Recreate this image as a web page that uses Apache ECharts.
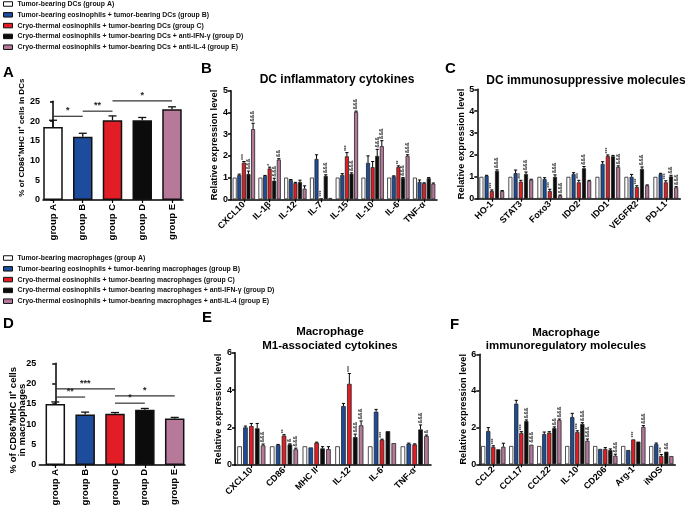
<!DOCTYPE html>
<html><head><meta charset="utf-8">
<script src="https://cdn.jsdelivr.net/npm/echarts@6/dist/echarts.min.js"></script>
<style>html,body{margin:0;padding:0;background:#fff}#c{width:685px;height:508px}</style>
</head><body><div id="c"></div><script>
// ---------- legend texts ----------
const legendDC = [
  'Tumor-bearing DCs (group A)',
  'Tumor-bearing eosinophils + tumor-bearing DCs (group B)',
  'Cryo-thermal eosinophils + tumor-bearing DCs (group C)',
  'Cryo-thermal eosinophils + tumor-bearing DCs + anti-IFN-γ (group D)',
  'Cryo-thermal eosinophils + tumor-bearing DCs + anti-IL-4 (group E)'
];
const legendMac = [
  'Tumor-bearing macrophages (group A)',
  'Tumor-bearing eosinophils + tumor-bearing macrophages (group B)',
  'Cryo-thermal eosinophils + tumor-bearing macrophages (group C)',
  'Cryo-thermal eosinophils + tumor-bearing macrophages + anti-IFN-γ (group D)',
  'Cryo-thermal eosinophils + tumor-bearing macrophages + anti-IL-4 (group E)'
];
const groupColors = ['#ffffff', '#1d4c9c', '#e31d25', '#0c0c0c', '#b6799a'];

// ---------- Panel A ----------
const aCats = ['group A', 'group B', 'group C', 'group D', 'group E'];
const aVals = [18.5, 16.0, 20.2, 20.2, 23.0];
const aErr  = [20.2, 16.9, 21.3, 20.9, 23.6];
const aSigFrom = [0, 1, 2];
const aSigTo   = [1, 2, 4];
const aSigY    = [21.2, 22.5, 25.1];
const aSigText = ['*', '**', '*'];

// ---------- Panel B ----------
const bCats = ['CXCL10', 'IL-1β', 'IL-12', 'IL-7', 'IL-15', 'IL-10', 'IL-6', 'TNF-α'];
const bA    = [1, 1, 1, 1, 1, 1, 1, 1];
const bB    = [1.12, 1.08, 0.89, 1.86, 1.12, 1.68, 1.06, 0.80];
const bC    = [1.69, 1.42, 0.75, 0.05, 1.98, 1.48, 1.49, 0.74];
const bD    = [1.17, 0.86, 0.80, 1.08, 1.18, 2.00, 0.98, 0.97];
const bE    = [3.23, 1.83, 0.49, 0.06, 4.02, 2.45, 2.00, 0.72];
const bBErr = [1.16, 1.10, 0.91, 2.05, 1.18, 2.00, 1.08, 0.89];
const bCErr = [1.74, 1.48, 0.78, 0.06, 2.15, 1.74, 1.54, 0.76];
const bDErr = [1.30, 0.97, 0.88, 1.13, 1.22, 2.30, 1.00, 1.00];
const bEErr = [3.50, 1.87, 0.62, 0.07, 4.06, 2.70, 2.05, 0.75];
const bSigC = ['***', '*', '', '***', '***', '', '**', ''];
const bSigD = ['&&&', '&&&', '', '&&&', '&&&', '&&&', '&&&', ''];
const bSigE = ['&&&', '&&', '', '', '&&&', '&&&', '&&&', ''];

// ---------- Panel C ----------
const cCats = ['HO-1', 'STAT3', 'Foxo3', 'IDO2', 'IDO1', 'VEGFR2', 'PD-L1'];
const cA    = [1, 1, 1, 1, 1, 1, 1];
const cB    = [1.05, 1.17, 0.90, 1.13, 1.59, 1.00, 1.13];
const cC    = [0.35, 0.78, 0.35, 0.75, 1.95, 0.53, 0.75];
const cD    = [1.27, 1.13, 1.00, 1.39, 1.94, 1.36, 1.02];
const cE    = [0.35, 0.87, 0.15, 0.82, 1.45, 0.61, 0.52];
const cBErr = [1.07, 1.31, 0.96, 1.19, 1.69, 1.11, 1.16];
const cCErr = [0.40, 0.84, 0.43, 0.84, 2.00, 0.59, 0.82];
const cDErr = [1.32, 1.22, 1.09, 1.47, 1.98, 1.45, 1.07];
const cEErr = [0.37, 0.89, 0.17, 0.84, 1.50, 0.63, 0.55];
const cSigC = ['***', '***', '***', '***', '***', '***', '***'];
const cSigD = ['&&&', '&&&', '&&&', '&&&', '', '&&&', '&&'];
const cSigE = ['', '', '&&&', '', '&&&', '', '&&&'];

// ---------- Panel D ----------
const dCats = ['group A', 'group B', 'group C', 'group D', 'group E'];
const dVals = [15.0, 12.4, 12.6, 13.6, 11.4];
const dErr  = [15.5, 13.0, 12.9, 13.9, 11.7];
const dSigFrom = [0, 0, 2, 2];
const dSigTo   = [1, 2, 4, 3];
const dSigY    = [16.7, 18.7, 17.0, 15.2];
const dSigText = ['**', '***', '*', '*'];

// ---------- Panel E ----------
const eCats = ['CXCL10', 'CD86', 'MHC II', 'IL-12', 'IL-6', 'TNF-α'];
const eA    = [1, 1, 1, 1, 1, 1];
const eB    = [2.01, 1.07, 0.94, 3.15, 2.85, 1.14];
const eC    = [2.08, 1.57, 1.19, 4.34, 1.35, 1.10];
const eD    = [1.96, 1.10, 0.89, 1.49, 1.81, 1.90];
const eE    = [1.05, 0.84, 0.85, 2.12, 1.17, 1.55];
const eBErr = [2.08, 1.10, 0.96, 3.29, 2.97, 1.17];
const eCErr = [2.22, 1.62, 1.22, 4.89, 1.38, 1.13];
const eDErr = [2.22, 1.13, 0.98, 1.65, 1.83, 2.14];
const eEErr = [1.12, 0.90, 0.98, 2.35, 1.19, 1.60];
const eSigC = ['', '**', '', '***', '***', ''];
const eSigD = ['', '&', '', '&&&', '', '&&&'];
const eSigE = ['&&&', '&&&', '', '&&&', '', '&'];

// ---------- Panel F ----------
const fCats = ['CCL2', 'CCL17', 'CCL22', 'IL-10', 'CD206', 'Arg-1', 'iNOS'];
const fA    = [1, 1, 1, 1, 1, 1, 1];
const fB    = [1.82, 3.31, 1.65, 2.58, 0.84, 0.78, 1.11];
const fC    = [0.95, 1.71, 1.73, 1.76, 0.84, 1.36, 0.45];
const fD    = [0.82, 2.36, 1.98, 2.20, 0.78, 1.24, 0.69];
const fE    = [0.96, 1.07, 2.42, 1.29, 0.47, 2.04, 0.45];
const fBErr = [2.00, 3.49, 1.76, 2.78, 0.86, 0.80, 1.16];
const fCErr = [1.01, 1.78, 1.78, 1.83, 0.91, 1.38, 0.53];
const fDErr = [0.84, 2.42, 2.04, 2.27, 0.84, 1.26, 0.71];
const fEErr = [1.15, 1.09, 2.47, 1.38, 0.55, 2.11, 0.47];
const fSigC = ['***', '***', '', '***', '', '***', '***'];
const fSigD = ['', '&&&', '&&', '&&&', '', '', '&&'];
const fSigE = ['', '&&&', '&&&', '&&&', '&&&', '&&&', ''];

// =====================================================
const FONT = '"Liberation Sans", Arial, Helvetica, sans-serif';
const chart = echarts.init(document.getElementById('c'));

const axisLineStyle = {color: '#000', width: 1.5};
const labelStyle = {color: '#000', fontSize: 9, fontWeight: 'bold', fontFamily: FONT};
const nameStyle = {color: '#000', fontSize: 9.3, fontWeight: 'bold', fontFamily: FONT, lineHeight: 10};

const grids = [
  {left: 43, top: 101.3, width: 140, height: 98.7},    // A
  {left: 231, top: 90.7, width: 206, height: 108.6},   // B
  {left: 477.3, top: 89.3, width: 203, height: 109.4}, // C
  {left: 39.3, top: 363.3, width: 145.7, height: 101.7}, // D
  {left: 235, top: 352.7, width: 196, height: 112.3},  // E
  {left: 479.3, top: 354.3, width: 196, height: 110}   // F
].map(g => Object.assign({outerBoundsMode: 'none', containLabel: false}, g));

function yAxisCfg(gi, max, interval, name, nameGap, nameExtra) {
  return {
    type: 'value', gridIndex: gi, min: 0, max, interval,
    splitLine: {show: false},
    axisLine: {show: true, lineStyle: axisLineStyle},
    axisTick: {show: true, length: 3, lineStyle: {width: 1.5, color: '#000'}},
    axisLabel: Object.assign({margin: 3}, labelStyle),
    name, nameLocation: 'middle', nameGap, nameMoveOverlap: false,
    nameTextStyle: Object.assign({}, nameStyle, nameExtra || {})
  };
}
function catXAxis(gi, cats) {
  return {
    type: 'category', gridIndex: gi, data: cats,
    axisLine: {show: true, lineStyle: axisLineStyle},
    axisTick: {show: true, alignWithLabel: true, length: 3, lineStyle: {width: 1.2, color: '#000'}},
    axisLabel: Object.assign({rotate: 45, interval: 0, margin: 4}, labelStyle)
  };
}
function groupXAxis(gi, cats, min, max) {
  const idx = cats.map((c, i) => i);
  return {
    type: 'value', gridIndex: gi, min, max,
    splitLine: {show: false},
    axisLine: {show: true, onZero: false, lineStyle: axisLineStyle},
    axisTick: {show: true, length: 3, customValues: idx, lineStyle: {width: 1.2, color: '#000'}},
    axisLabel: Object.assign({rotate: 90, margin: 4, customValues: idx,
      formatter: v => cats[Math.round(v)] || ''}, labelStyle, {fontSize: 9.5})
  };
}

function singleBarPanel(gi, vals, errs, names, sigFrom, sigTo, sigY, sigText) {
  const series = [];
  for (let g = 0; g < vals.length; g++) {
    series.push({
      type: 'bar', name: names[g], xAxisIndex: gi, yAxisIndex: gi,
      data: [[g, vals[g]]], barWidth: 19.5, barGap: '-100%',
      itemStyle: {color: groupColors[g], borderColor: '#111', borderWidth: 1.5}, z: 2
    });
  }
  series.push({
    type: 'custom', xAxisIndex: gi, yAxisIndex: gi, silent: true, clip: false, z: 5,
    data: vals.map((v, i) => [i, v, errs[i]]), encode: {x: 0, y: [1, 2]},
    renderItem(params, api) {
      const p0 = api.coord([api.value(0), api.value(1)]);
      const p1 = api.coord([api.value(0), api.value(2)]);
      return {type: 'group', children: [
        {type: 'line', shape: {x1: p0[0], y1: p0[1], x2: p1[0], y2: p1[1]}, style: {stroke: '#111', lineWidth: 1.3}},
        {type: 'line', shape: {x1: p1[0] - 4, y1: p1[1], x2: p1[0] + 4, y2: p1[1]}, style: {stroke: '#111', lineWidth: 1.3}}
      ]};
    }
  });
  series.push({
    type: 'custom', xAxisIndex: gi, yAxisIndex: gi, silent: true, clip: false, z: 5,
    data: sigFrom.map((f, i) => [f, sigTo[i], sigY[i]]), encode: {x: [0, 1], y: 2},
    renderItem(params, api) {
      const p0 = api.coord([api.value(0), api.value(2)]);
      const p1 = api.coord([api.value(1), api.value(2)]);
      return {type: 'group', children: [
        {type: 'line', shape: {x1: p0[0], y1: p0[1], x2: p1[0], y2: p1[1]}, style: {stroke: '#333', lineWidth: 1.2}},
        {type: 'text', x: (p0[0] + p1[0]) / 2, y: p0[1] - 1,
          style: {text: sigText[params.dataIndex], font: 'bold 9px ' + FONT, fill: '#222',
            textAlign: 'center', align: 'center', textVerticalAlign: 'bottom', verticalAlign: 'bottom'}}
      ]};
    }
  });
  return series;
}

function groupedPanel(gi, cats, vals, errs, sigs, names, bw, gapRatio) {
  const series = [];
  for (let g = 0; g < 5; g++) {
    series.push({
      type: 'bar', name: names[g], xAxisIndex: gi, yAxisIndex: gi, data: vals[g],
      barWidth: bw, barGap: (gapRatio * 100) + '%',
      itemStyle: {color: groupColors[g], borderColor: '#222', borderWidth: 0.8}, z: 2
    });
  }
  const data = [], labels = [];
  for (let g = 0; g < 5; g++) {
    for (let i = 0; i < cats.length; i++) {
      data.push([i, g, vals[g][i], errs[g] ? errs[g][i] : vals[g][i]]);
      labels.push(sigs[g] ? sigs[g][i] : '');
    }
  }
  const total = 5 * bw + 4 * bw * gapRatio;
  series.push({
    type: 'custom', xAxisIndex: gi, yAxisIndex: gi, silent: true, clip: false, z: 5,
    data, encode: {x: 0, y: [2, 3]},
    renderItem(params, api) {
      const i = api.value(0), g = api.value(1);
      const p0 = api.coord([i, api.value(2)]);
      const p1 = api.coord([i, api.value(3)]);
      const x = p0[0] - total / 2 + bw / 2 + g * bw * (1 + gapRatio);
      const children = [];
      if (p0[1] - p1[1] > 0.4) {
        children.push({type: 'line', shape: {x1: x, y1: p0[1], x2: x, y2: p1[1]}, style: {stroke: '#000', lineWidth: 1}});
        children.push({type: 'line', shape: {x1: x - 1.6, y1: p1[1], x2: x + 1.6, y2: p1[1]}, style: {stroke: '#000', lineWidth: 1}});
      }
      const t = labels[params.dataIndex];
      if (t) {
        children.push({type: 'text', x: x, y: p1[1] - 1.5, rotation: Math.PI / 2,
          style: {text: t, font: 'bold 5px ' + FONT, fill: '#333',
            textAlign: 'left', align: 'left', textVerticalAlign: 'middle', verticalAlign: 'middle'}});
      }
      return {type: 'group', children};
    }
  });
  return series;
}

const series = [].concat(
  singleBarPanel(0, aVals, aErr, legendDC, aSigFrom, aSigTo, aSigY, aSigText),
  groupedPanel(1, bCats, [bA, bB, bC, bD, bE], [null, bBErr, bCErr, bDErr, bEErr], [null, null, bSigC, bSigD, bSigE], legendDC, 4, 0.15),
  groupedPanel(2, cCats, [cA, cB, cC, cD, cE], [null, cBErr, cCErr, cDErr, cEErr], [null, null, cSigC, cSigD, cSigE], legendDC, 4, 0.3),
  singleBarPanel(3, dVals, dErr, legendMac, dSigFrom, dSigTo, dSigY, dSigText),
  groupedPanel(4, eCats, [eA, eB, eC, eD, eE], [null, eBErr, eCErr, eDErr, eEErr], [null, null, eSigC, eSigD, eSigE], legendMac, 4.6, 0.28),
  groupedPanel(5, fCats, [fA, fB, fC, fD, fE], [null, fBErr, fCErr, fDErr, fEErr], [null, null, fSigC, fSigD, fSigE], legendMac, 4.2, 0.2)
);

function legendCfg(names, top) {
  return {
    data: names, orient: 'vertical', left: 3, top, padding: 0,
    itemWidth: 9, itemHeight: 4.5, itemGap: 2.8, itemTextGap: 6,
    selectedMode: false, icon: 'rect',
    itemStyle: {borderColor: '#111', borderWidth: 1},
    textStyle: {fontSize: 6.9, fontWeight: 'bold', color: '#111', fontFamily: FONT, lineHeight: 8}
  };
}

function txt(x, y, text, size, align) {
  return {type: 'text', x, y, silent: true,
    style: {text, font: 'bold ' + size + 'px ' + FONT, fill: '#000',
      textAlign: align || 'left', align: align || 'left', textVerticalAlign: 'top', verticalAlign: 'top'}};
}

chart.setOption({
  animation: false,
  backgroundColor: '#fff',
  textStyle: {fontFamily: FONT},
  legend: [legendCfg(legendDC, 0), legendCfg(legendMac, 254)],
  grid: grids,
  xAxis: [
    groupXAxis(0, aCats, -0.336, 4.37),
    catXAxis(1, bCats),
    catXAxis(2, cCats),
    groupXAxis(3, dCats, -0.536, 4.345),
    catXAxis(4, eCats),
    catXAxis(5, fCats)
  ],
  yAxis: [
    yAxisCfg(0, 25, 5, '% of CD86⁺MHC II⁺ cells in DCs', 17, {fontSize: 8, lineHeight: 9, padding: [0, 0, 0, 26]}),
    yAxisCfg(1, 5, 1, 'Relative expression level', 12),
    yAxisCfg(2, 5, 1, 'Relative expression level', 10.6),
    yAxisCfg(3, 25, 5, '% of CD86⁺MHC II⁺ cells\nin macrophages', 12, {fontSize: 9.5, lineHeight: 9.5, padding: [0, 12, 0, 0]}),
    yAxisCfg(4, 6, 2, 'Relative expression level', 11.7),
    yAxisCfg(5, 6, 2, 'Relative expression level', 11)
  ],
  series,
  graphic: [
    txt(3, 65, 'A', 15), txt(201, 61, 'B', 15), txt(445, 61, 'C', 15),
    txt(3, 316, 'D', 15), txt(202, 310, 'E', 15), txt(450, 317, 'F', 15),
    txt(337, 74, 'DC inflammatory cytokines', 12, 'center'),
    txt(586, 75, 'DC immunosuppressive molecules', 12, 'center'),
    txt(330, 326, 'Macrophage', 11.5, 'center'),
    txt(330, 340, 'M1-associated cytokines', 11.5, 'center'),
    txt(566, 327, 'Macrophage', 11.5, 'center'),
    txt(566, 340, 'immunoregulatory molecules', 11.5, 'center')
  ]
});
</script></body></html>
